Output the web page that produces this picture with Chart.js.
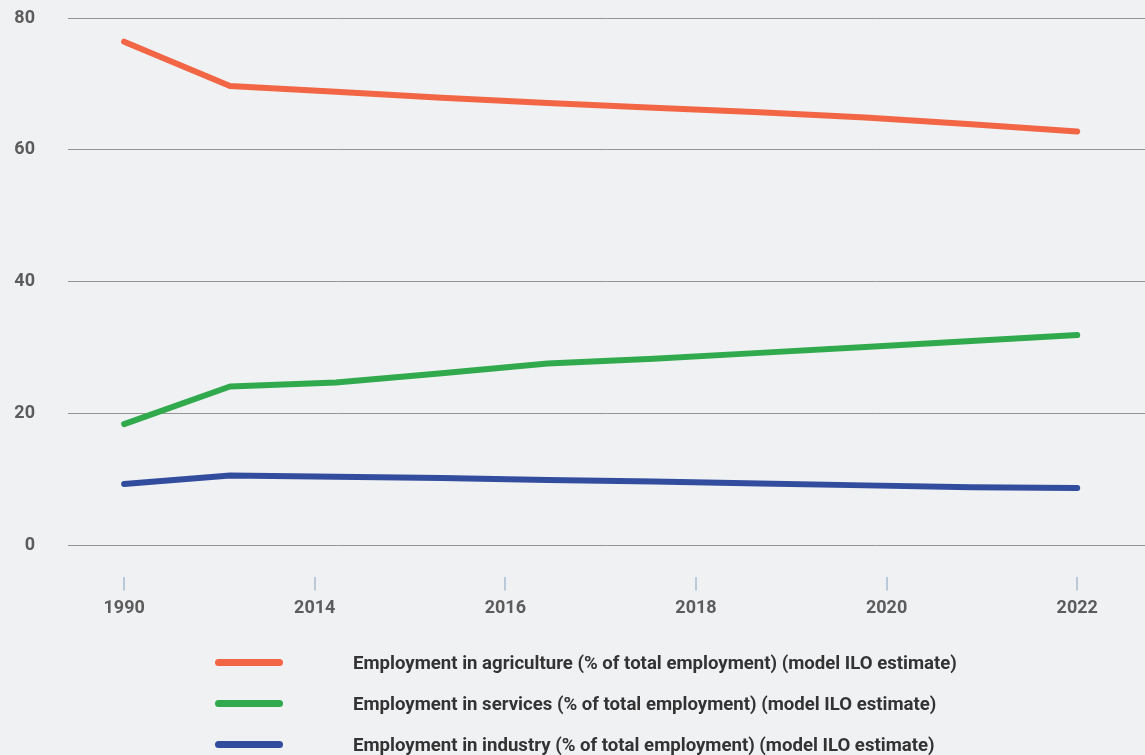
<!DOCTYPE html>
<html>
<head>
<meta charset="utf-8">
<script src="https://cdn.jsdelivr.net/npm/chart.js@4/dist/chart.umd.min.js"></script>
<style>
  html, body { margin: 0; padding: 0; background: #f0f1f3; }
  #wrap { position: relative; width: 1145px; height: 755px; overflow: hidden; }
  #chart { position: absolute; left: 0; top: 0; }
  #legend { position: absolute; left: 215px; top: 642px; font-family: Roboto, 'Noto Sans', sans-serif; font-weight: 700; font-size: 18.6px; color: #333; }
  .row { display: flex; align-items: center; height: 41px; }
  .swatch { width: 68px; height: 7px; border-radius: 4px; margin-right: 70px; }
</style>
</head>
<body>
<div id="wrap">
  <canvas id="chart" width="1145" height="755"></canvas>
  <div id="legend"></div>
</div>
<script>
// data points (one per year, drawn at equal spacing)
const years = ['1991', '2014', '2015', '2016', '2017', '2018', '2019', '2020', '2021', '2022'];
const agriculture = [76.4, 69.7, 68.8, 67.9, 67.1, 66.4, 65.7, 64.9, 63.9, 62.8];
const services = [18.4, 24.1, 24.7, 26.1, 27.6, 28.3, 29.2, 30.1, 31.0, 31.9];
const industry = [9.3, 10.6, 10.4, 10.2, 9.9, 9.7, 9.4, 9.1, 8.8, 8.7];

// axis labels
const xTickLabels = ['1990', '2014', '2016', '2018', '2020', '2022'];
const yTicks = [0, 20, 40, 60, 80];

const seriesNames = [
  'Employment in agriculture (% of total employment) (model ILO estimate)',
  'Employment in services (% of total employment) (model ILO estimate)',
  'Employment in industry (% of total employment) (model ILO estimate)'
];
const seriesColors = ['#f26646', '#31aa4e', '#334d9e'];
const seriesValues = [agriculture, services, industry];

const lastIdx = years.length - 1;
const xTickPos = xTickLabels.map((_, i) => i * lastIdx / (xTickLabels.length - 1));

const datasets = seriesValues.map((vals, s) => ({
  label: seriesNames[s],
  data: vals.map((v, i) => ({ x: i, y: v })),
  borderColor: seriesColors[s],
  backgroundColor: seriesColors[s],
  borderWidth: 6,
  borderCapStyle: 'round',
  borderJoinStyle: 'round',
  pointRadius: 0,
  pointHoverRadius: 0,
  tension: 0
}));

const tickFont = { family: 'Roboto, "Noto Sans", sans-serif', size: 18, weight: 'bold' };

new Chart(document.getElementById('chart'), {
  type: 'line',
  data: { datasets: datasets },
  options: {
    responsive: false,
    animation: false,
    layout: { padding: { left: 0, top: 18, right: 0, bottom: 129 } },
    plugins: { legend: { display: false }, tooltip: { enabled: false } },
    scales: {
      x: {
        type: 'linear',
        min: -0.53,
        max: 9.64,
        afterBuildTicks: axis => { axis.ticks = xTickPos.map(v => ({ value: v })); },
        ticks: {
          callback: (v, i) => xTickLabels[i],
          font: tickFont,
          color: '#5c5c5c',
          padding: 7,
          maxRotation: 0,
          autoSkip: false
        },
        grid: { drawOnChartArea: false, drawTicks: true, tickLength: 13, color: '#b8c9da', lineWidth: 2 },
        border: { display: false }
      },
      y: {
        min: -4.86,
        max: 80,
        afterBuildTicks: axis => { axis.ticks = yTicks.map(v => ({ value: v })); },
        afterFit: axis => { axis.width = 68; axis.paddingTop = 0; axis.paddingBottom = 0; },
        ticks: { font: tickFont, color: '#5c5c5c', padding: 33 },
        grid: { color: '#949494', lineWidth: 1, drawTicks: false },
        border: { display: false }
      }
    }
  }
});

// legend, one item per row
const legend = document.getElementById('legend');
seriesNames.forEach((name, i) => {
  const row = document.createElement('div');
  row.className = 'row';
  const sw = document.createElement('span');
  sw.className = 'swatch';
  sw.style.background = seriesColors[i];
  const txt = document.createElement('span');
  txt.textContent = name;
  row.appendChild(sw);
  row.appendChild(txt);
  legend.appendChild(row);
});
</script>
</body>
</html>
